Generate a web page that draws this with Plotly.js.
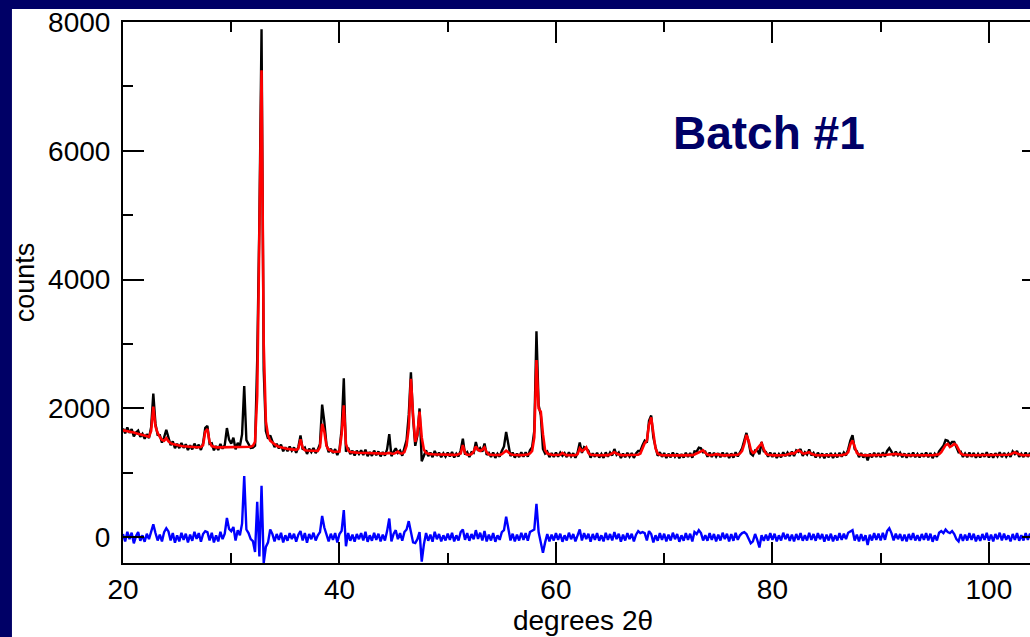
<!DOCTYPE html>
<html>
<head>
<meta charset="utf-8">
<script src="https://cdn.plot.ly/plotly-3.0.1.min.js"></script>
<style>
  html, body { margin: 0; padding: 0; background: #000066; overflow: hidden; width: 1030px; height: 637px; }
  #chart { position: absolute; left: 0px; top: 0px; width: 1053px; height: 637px; }
</style>
</head>
<body>
<div id="chart"></div>
<script>
// Powder diffraction pattern, 2-theta from 20.0 deg in steps of 0.2 deg
const startAngle = 20.0;
const angleStep = 0.2;

const observedCounts = [
  1690,1615,1705,1620,1680,1565,1625,1655,1560,1605,
  1530,1600,1540,1710,2230,1760,1590,1585,1470,1550,
  1670,1560,1430,1488,1383,1450,1384,1463,1388,1444,
  1355,1427,1365,1454,1383,1437,1355,1460,1700,1730,
  1450,1460,1350,1416,1355,1450,1375,1430,1695,1515,
  1455,1545,1365,1466,1416,1596,2347,1508,1440,1385,
  1390,1420,2750,4900,7890,2600,1650,1530,1580,1500,
  1400,1450,1380,1440,1335,1398,1337,1408,1344,1395,
  1312,1400,1580,1360,1392,1293,1375,1322,1385,1308,
  1360,1450,2060,1790,1440,1320,1375,1307,1368,1276,
  1360,1680,2470,1330,1390,1290,1343,1271,1344,1292,
  1350,1278,1361,1259,1322,1265,1345,1273,1332,1256,
  1321,1268,1365,1600,1260,1326,1380,1310,1345,1265,
  1370,1510,1900,2560,1850,1420,1580,2000,1180,1280,
  1350,1260,1315,1243,1341,1265,1314,1243,1302,1251,
  1315,1255,1324,1239,1298,1255,1350,1530,1285,1322,
  1245,1320,1310,1480,1345,1385,1330,1455,1280,1310,
  1248,1317,1232,1296,1251,1340,1410,1635,1430,1260,
  1315,1236,1300,1245,1320,1251,1318,1250,1350,1400,
  1650,3200,2050,1900,1370,1300,1330,1245,1305,1246,
  1315,1250,1315,1265,1305,1245,1319,1254,1304,1234,
  1315,1470,1310,1400,1375,1345,1235,1304,1249,1313,
  1238,1293,1233,1318,1250,1315,1270,1370,1280,1317,
  1230,1298,1243,1312,1252,1307,1233,1300,1340,1340,
  1430,1500,1470,1810,1890,1550,1400,1265,1320,1249,
  1307,1232,1297,1242,1317,1252,1302,1227,1292,1237,
  1312,1247,1307,1235,1335,1330,1390,1380,1320,1330,
  1250,1315,1247,1310,1250,1305,1243,1317,1252,1307,
  1232,1302,1237,1319,1255,1320,1380,1500,1620,1480,
  1300,1270,1350,1355,1290,1480,1335,1325,1250,1314,
  1247,1307,1232,1292,1242,1319,1258,1315,1260,1330,
  1260,1350,1325,1370,1265,1320,1285,1365,1270,1310,
  1240,1313,1252,1302,1227,1297,1242,1307,1232,1292,
  1242,1313,1250,1315,1270,1365,1500,1585,1370,1335,
  1245,1306,1238,1292,1192,1297,1242,1312,1247,1307,
  1242,1318,1250,1340,1385,1330,1262,1330,1270,1312,
  1243,1301,1235,1304,1249,1314,1244,1294,1239,1304,
  1249,1314,1244,1309,1229,1296,1250,1335,1380,1420,
  1510,1500,1440,1480,1480,1410,1320,1330,1247,1301,
  1244,1314,1249,1309,1234,1294,1239,1304,1249,1319,
  1239,1299,1234,1304,1254,1319,1244,1309,1251,1300,
  1250,1335,1293,1340,1250,1298,1245,1314,1249,1309,
  1244,1299,1234,1303,1253
];

const calculatedCounts = [
  1660,1655,1650,1640,1635,1625,1615,1605,1595,1585,
  1575,1565,1560,1650,2030,1720,1620,1560,1510,1500,
  1540,1490,1460,1448,1438,1430,1424,1418,1413,1409,
  1405,1402,1400,1399,1398,1397,1400,1430,1640,1680,
  1480,1415,1400,1396,1395,1395,1395,1395,1395,1395,
  1395,1395,1395,1396,1396,1396,1397,1398,1400,1405,
  1420,1480,2200,5200,7250,3000,1800,1580,1500,1470,
  1440,1420,1405,1395,1385,1378,1372,1368,1364,1360,
  1357,1375,1520,1390,1352,1348,1345,1342,1340,1338,
  1340,1400,1760,1640,1420,1360,1340,1332,1328,1326,
  1330,1600,2050,1450,1350,1325,1318,1316,1314,1312,
  1310,1308,1306,1304,1302,1300,1300,1298,1297,1296,
  1296,1298,1305,1310,1300,1296,1310,1330,1305,1300,
  1320,1420,1700,2460,1900,1480,1600,1950,1550,1360,
  1310,1295,1290,1288,1286,1285,1284,1283,1282,1281,
  1280,1280,1279,1279,1278,1285,1300,1430,1310,1282,
  1280,1290,1330,1410,1360,1340,1360,1395,1320,1285,
  1278,1277,1277,1276,1276,1290,1320,1345,1320,1290,
  1280,1276,1275,1275,1275,1276,1278,1285,1300,1340,
  1550,2750,2000,1950,1600,1350,1300,1285,1280,1276,
  1275,1275,1280,1310,1285,1275,1274,1274,1274,1274,
  1290,1380,1340,1360,1395,1310,1280,1274,1274,1273,
  1273,1273,1273,1273,1275,1285,1300,1320,1300,1282,
  1275,1273,1273,1272,1272,1272,1273,1275,1280,1300,
  1380,1460,1500,1750,1860,1600,1380,1300,1280,1274,
  1272,1272,1272,1272,1272,1272,1272,1272,1272,1272,
  1272,1272,1272,1275,1285,1300,1320,1340,1350,1310,
  1285,1275,1272,1280,1290,1280,1273,1272,1272,1272,
  1272,1272,1272,1274,1280,1300,1340,1450,1590,1500,
  1360,1310,1320,1380,1430,1460,1370,1300,1280,1274,
  1272,1272,1272,1272,1272,1274,1278,1285,1295,1305,
  1300,1320,1350,1330,1300,1300,1315,1320,1295,1280,
  1275,1273,1272,1272,1272,1272,1272,1272,1272,1272,
  1272,1273,1275,1280,1290,1320,1440,1505,1400,1310,
  1285,1276,1273,1272,1272,1272,1272,1272,1272,1272,
  1272,1273,1275,1280,1285,1290,1292,1295,1290,1282,
  1278,1276,1275,1274,1274,1274,1274,1274,1274,1274,
  1274,1274,1274,1274,1274,1276,1280,1290,1320,1380,
  1430,1450,1400,1420,1450,1430,1360,1300,1282,1276,
  1274,1274,1274,1274,1274,1274,1274,1274,1274,1274,
  1274,1274,1274,1274,1274,1274,1274,1274,1276,1280,
  1290,1305,1318,1300,1285,1278,1275,1274,1274,1274,
  1274,1274,1274,1273,1273
];

const differenceCounts = [
  50,-65,85,-30,70,-95,15,80,-55,30,
  -70,55,-30,95,200,65,-50,40,-65,80,
  140,90,-50,65,-85,30,-65,70,-40,55,
  -80,40,-55,85,-25,65,-70,50,95,80,
  -50,70,-80,30,-65,85,-30,55,300,130,
  95,160,-50,110,30,210,950,120,65,-30,
  -60,-230,550,-300,800,-400,-150,-80,120,50,
  -65,50,-40,70,-80,30,-55,65,-30,55,
  -70,40,95,-50,65,-85,50,-30,70,-50,
  30,80,330,150,30,-65,55,-40,65,-80,
  50,100,420,-140,65,-55,40,-70,50,-30,
  65,-50,85,-70,30,-55,70,-40,55,-65,
  40,-50,95,290,-65,50,110,-30,65,-55,
  80,120,250,100,-80,-90,-30,80,-380,-110,
  65,-55,40,-70,85,-30,50,-65,30,-50,
  55,-40,70,-65,30,-50,80,120,-40,65,
  -55,50,-30,110,-25,70,-50,95,-65,40,
  -50,65,-70,30,-40,80,110,320,130,-50,
  55,-65,40,-50,70,-40,65,-55,80,95,
  120,520,80,-80,-240,-80,50,-65,40,-50,
  65,-40,55,-70,30,-50,70,-30,50,-65,
  40,120,-50,65,-30,55,-70,50,-40,65,
  -55,30,-65,70,-40,50,-50,80,-30,55,
  -70,40,-50,65,-30,55,-65,40,95,65,
  80,65,-50,95,50,-80,30,-55,65,-40,
  55,-65,40,-50,70,-30,50,-70,30,-55,
  65,-40,55,-65,80,50,110,65,-50,30,
  -55,65,-40,50,-65,40,-50,70,-30,55,
  -65,50,-55,70,-40,30,65,80,50,-30,
  -95,-65,50,-40,-160,30,-55,40,-50,65,
  -40,55,-65,30,-50,70,-30,50,-55,40,
  -65,50,-40,65,-55,30,-50,70,-40,50,
  -55,65,-30,50,-70,40,-50,55,-65,30,
  -50,65,-40,55,-30,70,95,110,-50,40,
  -65,50,-55,30,-120,40,-50,65,-40,55,
  -50,70,-40,95,140,65,-50,55,-30,50,
  -55,40,-65,50,-40,65,-50,30,-55,50,
  -40,65,-50,55,-70,30,-50,70,95,65,
  120,80,65,95,50,-30,-65,50,-55,40,
  -50,65,-40,55,-65,30,-55,50,-40,70,
  -55,40,-65,50,-30,70,-50,55,-40,30,
  -65,50,-40,65,-55,30,-50,65,-40,55,
  -50,40,-65,50,-30
];

const xTickValues = [20, 40, 60, 80, 100];
const yTickValues = [0, 2000, 4000, 6000, 8000];
const xAxisLabel = 'degrees 2θ';
const yAxisLabel = 'counts';
const panelLabel = 'Batch #1';

const fontFamily = '"Liberation Sans", Arial, Helvetica, sans-serif';
const navy = '#000066';

const traces = [
  { type: 'scatter', mode: 'lines', name: 'observed',
    y: observedCounts, x0: startAngle, dx: angleStep,
    line: { color: '#000000', width: 2.4 }, hoverinfo: 'x+y' },
  { type: 'scatter', mode: 'lines', name: 'calculated',
    y: calculatedCounts, x0: startAngle, dx: angleStep,
    line: { color: '#ff0000', width: 2.6 }, hoverinfo: 'x+y' },
  { type: 'scatter', mode: 'lines', name: 'difference',
    y: differenceCounts, x0: startAngle, dx: angleStep,
    line: { color: '#0000ff', width: 2.4 }, hoverinfo: 'x+y' }
];

const axisCommon = {
  showline: true, linecolor: '#000000', linewidth: 2,
  mirror: 'allticks', ticks: 'inside', ticklen: 21, tickwidth: 2, tickcolor: '#000000',
  showgrid: false, zeroline: false, ticklabeloverflow: 'allow',
  tickfont: { family: fontFamily, size: 28, color: '#000000' }
};

const layout = {
  width: 1053, height: 637,
  margin: { l: 123, r: 10, t: 22, b: 74 },
  paper_bgcolor: navy, plot_bgcolor: '#ffffff',
  showlegend: false,
  font: { family: fontFamily, color: '#000000' },
  xaxis: Object.assign({}, axisCommon, {
    range: [20, 105], tickvals: xTickValues, ticktext: xTickValues.map(String),
    minor: { dtick: 10, tick0: 0, ticks: 'inside', ticklen: 10, tickwidth: 2, tickcolor: '#000000' },
    title: { text: xAxisLabel, font: { family: fontFamily, size: 28, color: '#000000' }, standoff: 4 }
  }),
  yaxis: Object.assign({}, axisCommon, {
    range: [-400, 8001], tickvals: yTickValues, ticktext: yTickValues.map(String),
    ticklabelstandoff: 5,
    minor: { dtick: 1000, tick0: 0, ticks: 'inside', ticklen: 10, tickwidth: 2, tickcolor: '#000000' }
  }),
  shapes: [{
    type: 'rect', xref: 'paper', yref: 'paper', layer: 'below',
    x0: -0.1207, x1: 1.2, y0: -0.2, y1: 1.0240,
    fillcolor: '#ffffff', line: { width: 0 }
  }],
  annotations: [{
    text: '<b>' + panelLabel + '</b>', xref: 'paper', yref: 'paper',
    x: 0.702, y: 0.795, xanchor: 'center', yanchor: 'middle', showarrow: false,
    font: { family: fontFamily, size: 46, color: navy }
  }, {
    text: yAxisLabel, xref: 'paper', yref: 'paper', textangle: -90,
    x: -0.1065, y: 0.519, xanchor: 'center', yanchor: 'middle', showarrow: false,
    font: { family: fontFamily, size: 27, color: '#000000' }
  }]
};

Plotly.newPlot('chart', traces, layout, { displayModeBar: false, staticPlot: true });
</script>
</body>
</html>
